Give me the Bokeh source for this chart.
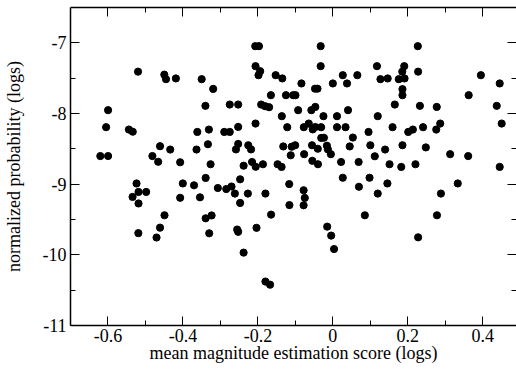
from bokeh.plotting import figure
from bokeh.models import FixedTicker, LinearAxis, Range1d
from bokeh.embed import file_html
from bokeh.resources import INLINE

# mean magnitude estimation score (logs)
score = [
    -0.2071, -0.1971, -0.0325, 0.2267, -0.2063, -0.0325, 0.1177, 0.1905, 0.1852, 0.2275,
    -0.1939, -0.1984, -0.1526, -0.1349, -0.5198, -0.4497, -0.4452, -0.4188, -0.3500, -0.3193,
    -0.0839, -0.0476, -0.0410, 0.0000, 0.0265, 0.0378, 0.0653, 0.1270, 0.1463, 0.1759,
    0.1913, 0.1857, 0.1857, 0.3950, 0.4452, 0.3624, -0.1653, -0.1251, -0.1058, -0.0997,
    -0.5997, -0.3400, -0.2751, -0.2526, -0.1913, -0.1807, -0.1701, -0.0926, -0.0574, -0.0468,
    0.0405, 0.1653, 0.2323, 0.2772, 0.4373, -0.1362, -0.0251, 0.0111, 0.1198, -0.2063,
    -0.2526, -0.2897, -0.2751, -0.1217, -0.0775, -0.0643, -0.0537, -0.0468, -0.0312, 0.0111,
    0.0339, 0.0952, 0.1593, 0.2011, 0.2135, 0.2407, 0.2759, 0.2865, 0.4505, -0.6050,
    -0.5442, -0.5339, -0.3616, -0.3307, -0.0310, -0.0238, 0.0534, -0.4611, -0.4339, -0.3638,
    -0.3333, -0.2526, -0.2585, -0.2257, -0.2183, -0.1323, -0.1098, -0.1005, -0.1124, -0.0767,
    -0.0556, -0.0402, -0.0159, -0.0132, -0.0053, 0.0450, 0.1000, 0.1394, 0.1119, 0.1857,
    0.2481, 0.3130, 0.3611, -0.6204, -0.5997, -0.4815, -0.4661, -0.4074, -0.3262, -0.2381,
    -0.2156, -0.2058, -0.1865, -0.1474, -0.1368, -0.0548, -0.0397, 0.0220, 0.0688, 0.1513,
    0.1825, 0.2204, 0.4452, -0.5238, -0.5185, -0.4981, -0.5344, -0.5185, -0.4003, -0.3704,
    -0.3394, -0.3069, -0.4074, -0.3545, -0.4492, -0.4611, -0.4704, -0.5190, -0.3394, -0.3235,
    -0.3299, -0.2474, -0.2844, -0.2704, -0.2614, -0.2267, -0.1799, -0.1164, -0.0780, -0.0749,
    -0.0780, -0.1159, -0.2474, -0.1648, -0.2553, -0.2526, -0.2037, -0.2381, -0.1799, -0.1675,
    0.0265, 0.0696, 0.0979, 0.1198, 0.1455, 0.3333, 0.2884, 0.2778, 0.0854, -0.0151,
    -0.0045, 0.0032, 0.2275,
]

# normalized probability (logs)
prob = [
    -7.047, -7.047, -7.047, -7.047, -7.330, -7.330, -7.330, -7.330, -7.408, -7.408,
    -7.401, -7.458, -7.458, -7.504, -7.408, -7.450, -7.514, -7.504, -7.514, -7.652,
    -7.575, -7.649, -7.649, -7.575, -7.458, -7.575, -7.458, -7.514, -7.504, -7.514,
    -7.504, -7.656, -7.741, -7.458, -7.575, -7.741, -7.741, -7.741, -7.741, -7.741,
    -7.953, -7.892, -7.873, -7.873, -7.873, -7.897, -7.911, -7.953, -7.953, -7.907,
    -7.953, -7.873, -7.892, -7.907, -7.892, -8.038, -8.038, -8.038, -8.038, -8.142,
    -8.190, -8.261, -8.261, -8.194, -8.194, -8.142, -8.225, -8.191, -8.194, -8.194,
    -8.194, -8.261, -8.194, -8.261, -8.227, -8.194, -8.227, -8.142, -8.142, -8.194,
    -8.227, -8.258, -8.261, -8.227, -8.346, -8.343, -8.340, -8.463, -8.510, -8.510,
    -8.435, -8.431, -8.508, -8.449, -8.508, -8.466, -8.470, -8.449, -8.591, -8.576,
    -8.449, -8.499, -8.456, -8.508, -8.576, -8.466, -8.449, -8.510, -8.605, -8.449,
    -8.480, -8.576, -8.602, -8.602, -8.602, -8.602, -8.683, -8.690, -8.718, -8.739,
    -8.686, -8.754, -8.718, -8.718, -8.756, -8.669, -8.718, -8.686, -8.686, -8.718,
    -8.756, -8.718, -8.756, -8.990, -9.110, -9.110, -9.181, -9.273, -8.990, -9.016,
    -8.912, -9.054, -9.193, -9.186, -9.440, -9.615, -9.755, -9.693, -9.483, -9.443,
    -9.695, -8.931, -9.069, -9.033, -9.133, -9.133, -9.133, -8.999, -9.086, -9.195,
    -9.299, -9.296, -9.266, -9.431, -9.642, -9.674, -9.618, -9.969, -10.378, -10.422,
    -8.909, -9.037, -8.909, -9.133, -8.990, -8.990, -9.133, -9.440, -9.440, -9.601,
    -9.728, -9.918, -9.752,
]

x_ticks = [-0.6, -0.4, -0.2, 0.0, 0.2, 0.4]
x_tick_labels = ["-0.6", "-0.4", "-0.2", "0", "0.2", "0.4"]
x_minor = [-0.5, -0.3, -0.1, 0.1, 0.3]
y_ticks = [-11, -10, -9, -8, -7]
y_tick_labels = ["-11", "-10", "-9", "-8", "-7"]
y_minor = [-10.5, -9.5, -8.5, -7.5]
x_title = "mean magnitude estimation score (logs)"
y_title = "normalized probability (logs)"

FONT = "Liberation Serif"

p = figure(width=516, height=369,
           x_range=Range1d(-0.7, 0.49), y_range=Range1d(-11.0, -6.5),
           output_backend="svg", toolbar_location=None,
           min_border_left=65, min_border_right=0, min_border_top=7, min_border_bottom=44,
           background_fill_color="white", border_fill_color="white")
p.xgrid.visible = False
p.ygrid.visible = False
p.outline_line_color = None

p.scatter(score, prob, size=7.2, color="black")


def style(ax, labels=True):
    ax.major_tick_in = 9
    ax.major_tick_out = 0
    ax.minor_tick_in = 5
    ax.minor_tick_out = 0
    ax.major_tick_line_color = "black"
    ax.minor_tick_line_color = "black"
    ax.axis_line_color = "black"
    ax.axis_line_width = 1.5
    if labels:
        ax.major_label_text_font = FONT
        ax.major_label_text_font_size = "18px"
        ax.major_label_text_color = "black"
        ax.axis_label_text_font = FONT
        ax.axis_label_text_font_size = "18px"
        ax.axis_label_text_font_style = "normal"
        ax.axis_label_text_color = "black"
    else:
        ax.major_label_text_font_size = "1px"
        ax.major_label_text_color = None
        ax.major_label_standoff = 0


xa = p.xaxis[0]
xa.ticker = FixedTicker(ticks=x_ticks, minor_ticks=x_minor)
xa.major_label_overrides = dict(zip(x_ticks, x_tick_labels))
xa.axis_label = x_title
style(xa)
xa.major_label_standoff = 3
xa.axis_label_standoff = -2

ya = p.yaxis[0]
ya.ticker = FixedTicker(ticks=y_ticks, minor_ticks=y_minor)
ya.major_label_overrides = dict(zip(y_ticks, y_tick_labels))
ya.axis_label = y_title
style(ya)
ya.major_label_standoff = 4
ya.axis_label_standoff = 16

top = LinearAxis(ticker=FixedTicker(ticks=x_ticks, minor_ticks=x_minor))
style(top, labels=False)
p.add_layout(top, "above")
right = LinearAxis(ticker=FixedTicker(ticks=y_ticks, minor_ticks=y_minor))
style(right, labels=False)
right.axis_line_color = None
p.add_layout(right, "right")

open("out.html", "w").write(file_html(p, INLINE))
